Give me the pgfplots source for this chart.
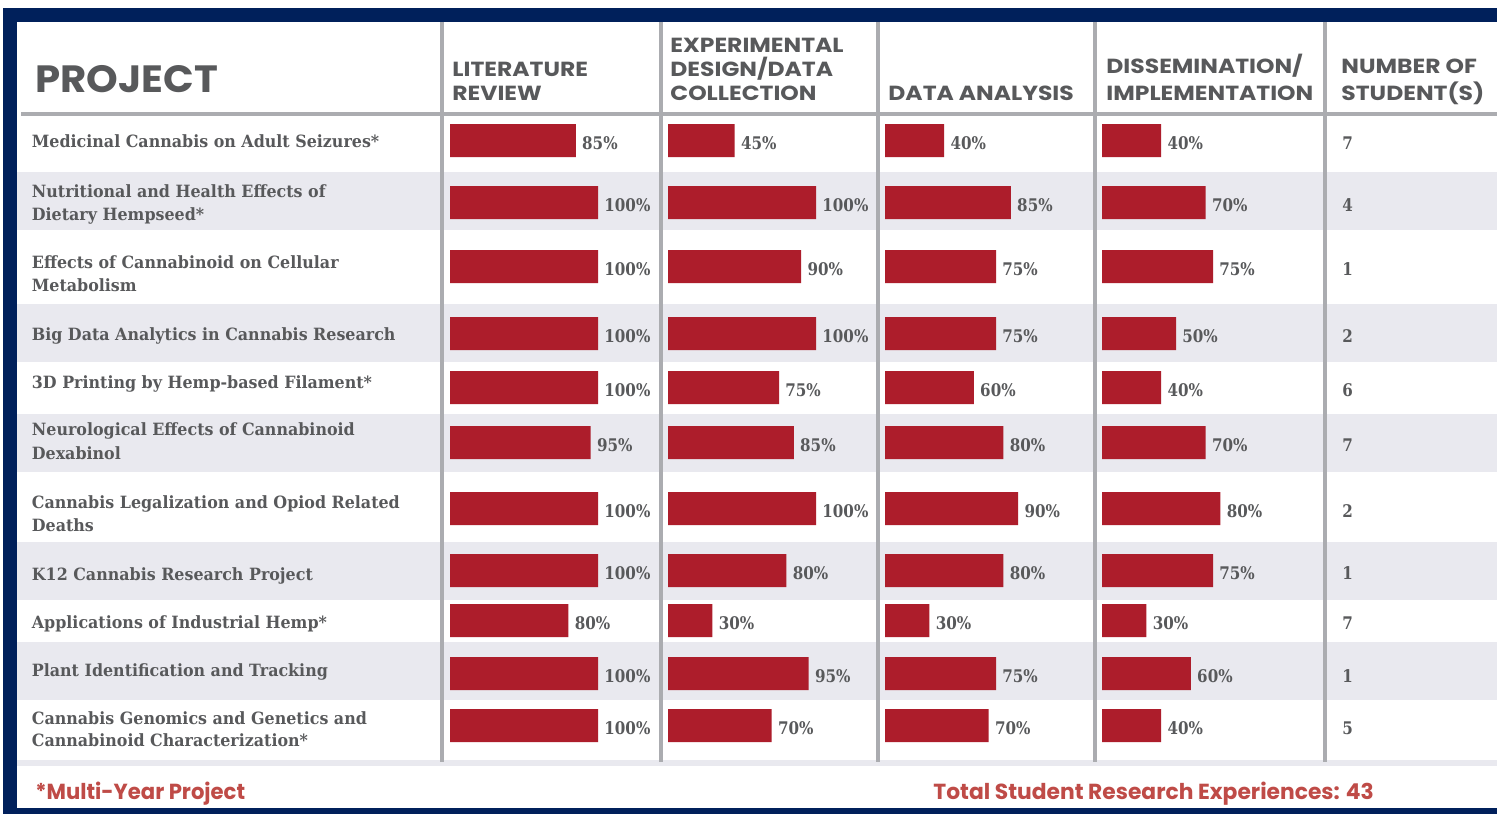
\documentclass[border=0pt]{standalone}
\usepackage{pgfplots}
\pgfplotsset{compat=1.18}
\usepackage{pgfplotstable}
\usepackage{fontspec}
\setmainfont{DejaVu Serif}
\newfontfamily\pj{DejaVu Serif}[FakeStretch=0.94]
\newfontfamily\pn{DejaVu Serif}[FakeStretch=0.87]
\newfontfamily\hd{Poppins}[FakeStretch=1.15]
\newfontfamily\hdp{Poppins}[FakeStretch=1.06]
\newfontfamily\ft{Poppins}
\newfontfamily\fts{Poppins}[FakeStretch=0.97]
\definecolor{navy}{HTML}{00205B}
\definecolor{barred}{HTML}{AD1D2B}
\definecolor{band}{HTML}{E9E9EF}
\definecolor{gridg}{HTML}{ABACB0}
\definecolor{txt}{HTML}{58595B}
\definecolor{foot}{HTML}{BF4B47}

% y = vertical position of the row (pixels from top)
\pgfplotstableread{
y     lr  edc da  di  n
140.5 85  45  40  40  7
202.5 100 100 85  70  4
266.5 100 90  75  75  1
333.5 100 100 75  50  2
387.5 100 75  60  40  6
442.5 95  85  80  70  7
508.5 100 100 90  80  2
570.5 100 80  80  75  1
620.5 80  30  30  30  7
673.5 100 95  75  60  1
725.5 100 70  70  40  5
}\data

\pgfplotsset{colbar/.style={
  at={(#1,0pt)}, anchor=north west,
  scale only axis, width=74pt, height=407pt,
  xmin=0, xmax=100, ymin=0, ymax=814, y dir=reverse,
  hide axis, clip=false, enlargelimits=false,
  /pgf/number format/assume math mode=true,
  xbar, bar width=16.5pt,
  nodes near coords={\pgfmathprintnumber{\pgfplotspointmeta}\%},
  nodes near coords style={font=\pn\bfseries\fontsize{8.7}{10}\selectfont, text=txt, anchor=west, inner sep=0pt, xshift=3pt, yshift=-1.5pt},
}}

\begin{document}
\begin{tikzpicture}[x=0.5pt,y=-0.5pt]
\useasboundingbox (0,0) rectangle (1497,814);
\fill[white] (0,0) rectangle (1497,814);
% row bands
\fill[band] (17,172) rectangle (1497,230);
\fill[band] (17,304) rectangle (1497,362);
\fill[band] (17,414) rectangle (1497,472);
\fill[band] (17,542) rectangle (1497,600);
\fill[band] (17,642) rectangle (1497,700);
\fill[band] (17,760) rectangle (1497,766);
% grid
\fill[gridg] (21,112) rectangle (1497,116);
\foreach \x in {441.5,661,878,1095,1325} \fill[gridg] (\x-2,22) rectangle (\x+2,762);
% navy frame
\fill[navy] (3,8) rectangle (1497,22);
\fill[navy] (3,8) rectangle (17,814);
\fill[navy] (3,808) rectangle (1497,814);

% headers
\begin{scope}[every node/.style={anchor=base west, inner sep=0pt, text=txt, font=\hd\bfseries\fontsize{10.2}{12}\selectfont}]
\node[font=\hdp\bfseries\fontsize{19}{22}\selectfont] at (35,92) {PROJECT};
\node at (452,76) {LITERATURE};
\node at (452,100) {REVIEW};
\node at (670,52) {EXPERIMENTAL};
\node at (670,76) {DESIGN/DATA};
\node at (670,100) {COLLECTION};
\node at (888,100) {DATA ANALYSIS};
\node at (1106,73) {DISSEMINATION/};
\node at (1106,100) {IMPLEMENTATION};
\node at (1341,73) {NUMBER OF};
\node at (1341,100) {STUDENT(S)};
\end{scope}

% project names
\begin{scope}[every node/.style={anchor=base west, inner sep=0pt, text=txt, font=\pj\bfseries\fontsize{8.45}{10}\selectfont}]
\node at (31.5,147.3) {Medicinal Cannabis on Adult Seizures*};
\node at (31.5,197.3) {Nutritional and Health Effects of};
\node at (31.5,220.5) {Dietary Hempseed*};
\node at (31.5,268.3) {Effects of Cannabinoid on Cellular};
\node at (31.5,291.7) {Metabolism};
\node at (31.5,340) {Big Data Analytics in Cannabis Research};
\node at (31.5,388.3) {3D Printing by Hemp-based Filament*};
\node at (31.5,435) {Neurological Effects of Cannabinoid};
\node at (31.5,459) {Dexabinol};
\node at (31.5,508) {Cannabis Legalization and Opiod Related};
\node at (31.5,531.7) {Deaths};
\node at (31.5,580) {K12 Cannabis Research Project};
\node at (31.5,628.3) {Applications of Industrial Hemp*};
\node at (31.5,676.7) {Plant Identification and Tracking};
\node at (31.5,724) {Cannabis Genomics and Genetics and};
\node at (31.5,746.7) {Cannabinoid Characterization*};
\end{scope}

% footer
\begin{scope}[every node/.style={anchor=base west, inner sep=0pt, text=foot, font=\ft\bfseries\fontsize{10.9}{13}\selectfont}]
\node[font=\fts\bfseries\fontsize{10.9}{13}\selectfont] at (35,799) {*Multi-Year Project};
\node at (933,799) {Total Student Research Experiences: 43};
\end{scope}

% bars
\begin{axis}[colbar=225pt]
\addplot[fill=barred, draw=none] table[x=lr, y=y] {\data};
\end{axis}
\begin{axis}[colbar=334pt]
\addplot[fill=barred, draw=none] table[x=edc, y=y] {\data};
\end{axis}
\begin{axis}[colbar=442.5pt]
\addplot[fill=barred, draw=none] table[x=da, y=y] {\data};
\end{axis}
\begin{axis}[colbar=551pt]
\addplot[fill=barred, draw=none] table[x=di, y=y] {\data};
\end{axis}
% number of students
\begin{axis}[at={(671pt,0pt)}, anchor=north west, scale only axis, width=40pt, height=407pt,
  xmin=0, xmax=1, ymin=0, ymax=814, y dir=reverse, hide axis, clip=false, enlargelimits=false,
  /pgf/number format/assume math mode=true]
\addplot[draw=none, mark=none, point meta=explicit,
  nodes near coords={\pgfmathprintnumber{\pgfplotspointmeta}},
  nodes near coords style={font=\pn\bfseries\fontsize{8.7}{10}\selectfont, text=txt, anchor=west, inner sep=0pt, yshift=-1.5pt}]
  table[x expr=0, y=y, meta=n] {\data};
\end{axis}
\end{tikzpicture}
\end{document}
